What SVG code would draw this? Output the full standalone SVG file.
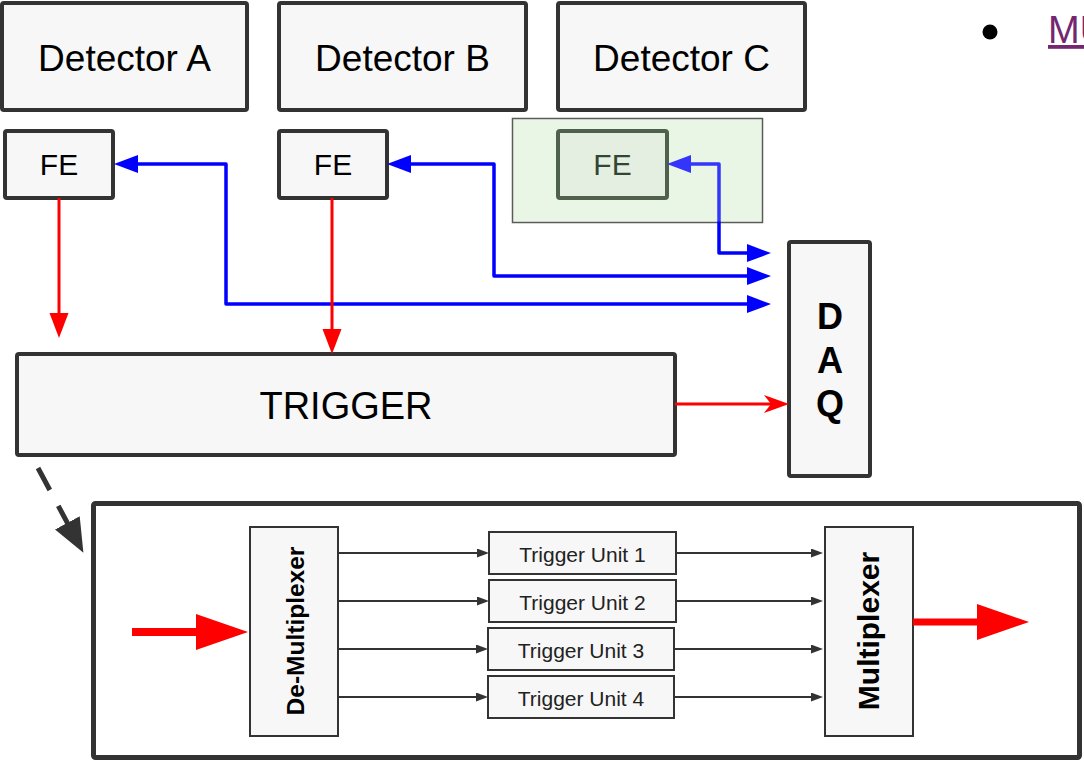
<svg xmlns="http://www.w3.org/2000/svg" width="1084" height="763" viewBox="0 0 1084 763">
<style>
.box{fill:#f7f7f7;stroke:#333333;stroke-width:4}
.sbox{fill:#f7f7f7;stroke:#333333;stroke-width:2}
.t{font-family:"Liberation Sans",Arial,sans-serif;fill:#000;text-anchor:middle}
.blue{fill:none;stroke:#0000ff;stroke-width:3.5;stroke-linejoin:round}
.red{fill:none;stroke:#ff0000;stroke-width:3}
.thin{fill:none;stroke:#333333;stroke-width:2}
</style>
<defs>
<marker id="hb" markerUnits="userSpaceOnUse" markerWidth="26" markerHeight="20" refX="2" refY="9" orient="auto-start-reverse"><path d="M0,0 L24,9 L0,18 z" fill="#0000ff"/></marker>
<marker id="hr" markerUnits="userSpaceOnUse" markerWidth="27" markerHeight="21" refX="2" refY="9.5" orient="auto"><path d="M0,0 L25,9.5 L0,19 z" fill="#ff0000"/></marker>
<marker id="hrn" markerUnits="userSpaceOnUse" markerWidth="27" markerHeight="20" refX="7" refY="9" orient="auto"><path d="M0,0 L25,9 L0,18 L7,9 z" fill="#ff0000"/></marker>
<marker id="hbig" markerUnits="userSpaceOnUse" markerWidth="54" markerHeight="38" refX="2" refY="18" orient="auto"><path d="M0,0 L52,18 L0,36 z" fill="#ff0000"/></marker>
<marker id="hd" markerUnits="userSpaceOnUse" markerWidth="36" markerHeight="30" refX="2" refY="14" orient="auto"><path d="M0,0 L34,14 L0,28 z" fill="#333333"/></marker>
<marker id="hs" markerUnits="userSpaceOnUse" markerWidth="14" markerHeight="11" refX="2" refY="4.5" orient="auto"><path d="M0,0 L12,4.5 L0,9 z" fill="#333333"/></marker>
</defs>
<rect x="0" y="0" width="1084" height="763" fill="#ffffff"/>

<g id="detector-a"><rect class="box" x="2" y="3" width="245" height="107" rx="2"/><text class="t" x="124.5" y="71" font-size="37">Detector A</text></g>
<g id="detector-b"><rect class="box" x="279" y="3" width="247" height="107" rx="2"/><text class="t" x="402.5" y="71" font-size="37">Detector B</text></g>
<g id="detector-c"><rect class="box" x="558" y="3" width="247" height="107" rx="2"/><text class="t" x="681.5" y="71" font-size="37">Detector C</text></g>

<g id="fe-c-region"><rect x="512.5" y="118.5" width="250" height="104" fill="#e9f6e6" stroke="#5a5a5a" stroke-width="1.5"/></g>

<g id="fe-a"><rect class="box" x="5" y="131" width="108" height="67" rx="2"/><text class="t" x="59" y="175" font-size="30">FE</text></g>
<g id="fe-b"><rect class="box" x="279" y="131" width="108" height="67" rx="2"/><text class="t" x="333" y="175" font-size="30">FE</text></g>
<g id="fe-c"><rect x="558" y="131" width="109" height="67" rx="2" fill="#e3eee0" stroke="#253620" stroke-width="4"/><text class="t" x="612.5" y="175" font-size="30" style="fill:#001400">FE</text></g>

<g id="trigger"><rect class="box" x="17" y="354" width="658" height="101" rx="2"/><text class="t" x="346" y="419" font-size="38">TRIGGER</text></g>

<g id="daq"><rect class="box" x="789" y="242" width="81" height="234" rx="2"/>
<text class="t" x="830" y="329" font-size="36" font-weight="bold">D</text>
<text class="t" x="830" y="373" font-size="36" font-weight="bold">A</text>
<text class="t" x="830" y="416" font-size="36" font-weight="bold">Q</text></g>

<g id="trigger-detail"><rect x="93.5" y="503.5" width="986" height="254" fill="#ffffff" stroke="#333333" stroke-width="5" rx="2"/></g>

<g id="demux"><rect class="sbox" x="250" y="527" width="88" height="209"/><text class="t" transform="translate(304,631) rotate(-90)" x="0" y="0" font-size="24.5" font-weight="bold">De-Multiplexer</text></g>
<g id="mux"><rect class="sbox" x="825" y="527" width="88" height="209"/><text class="t" transform="translate(879,631) rotate(-90)" x="0" y="0" font-size="30" font-weight="bold">Multiplexer</text></g>

<g id="tu1"><rect class="sbox" x="489" y="532" width="187" height="42"/><text class="t" x="582.5" y="561.5" font-size="21" style="fill:#222">Trigger Unit 1</text></g>
<g id="tu2"><rect class="sbox" x="489" y="580" width="187" height="42"/><text class="t" x="582.5" y="609.5" font-size="21" style="fill:#222">Trigger Unit 2</text></g>
<g id="tu3"><rect class="sbox" x="488" y="628" width="186" height="42"/><text class="t" x="581" y="657.5" font-size="21" style="fill:#222">Trigger Unit 3</text></g>
<g id="tu4"><rect class="sbox" x="488" y="676" width="186" height="42"/><text class="t" x="581" y="705.5" font-size="21" style="fill:#222">Trigger Unit 4</text></g>

<g id="connectors">
<path class="blue" d="M136,164 H226 V304 H749" marker-start="url(#hb)" marker-end="url(#hb)"/>
<path class="blue" d="M409,164 H494 V276 H749" marker-start="url(#hb)" marker-end="url(#hb)"/>
<path class="blue" d="M689,164 H719 V253 H749" marker-start="url(#hb)" marker-end="url(#hb)"/>
<path class="red" d="M59,198 V315" marker-end="url(#hr)"/>
<path class="red" d="M332,198 V331" marker-end="url(#hr)"/>
<path class="red" d="M675,404 H771" marker-end="url(#hrn)"/>
<path d="M38,468 L68.3,524.6" fill="none" stroke="#333333" stroke-width="5" stroke-dasharray="25 18" marker-end="url(#hd)"/>
<path d="M132,632 H198" fill="none" stroke="#ff0000" stroke-width="8" marker-end="url(#hbig)"/>
<path d="M913,622 H979" fill="none" stroke="#ff0000" stroke-width="7" marker-end="url(#hbig)"/>
<path class="thin" d="M338,553 H479" marker-end="url(#hs)"/>
<path class="thin" d="M338,601 H479" marker-end="url(#hs)"/>
<path class="thin" d="M338,649 H478" marker-end="url(#hs)"/>
<path class="thin" d="M338,697 H478" marker-end="url(#hs)"/>
<path class="thin" d="M676,553 H813" marker-end="url(#hs)"/>
<path class="thin" d="M676,601 H813" marker-end="url(#hs)"/>
<path class="thin" d="M674,649 H813" marker-end="url(#hs)"/>
<path class="thin" d="M674,697 H813" marker-end="url(#hs)"/>
</g>

<rect id="fe-c-region-tint" x="513.5" y="119.5" width="248" height="102" fill="#e9f6e6" opacity="0.22"/>

<g id="bullet-item"><circle cx="990" cy="32" r="7.5" fill="#000"/><text x="1048" y="43" font-family="Liberation Sans, Arial, sans-serif" font-size="38" fill="#74276f" text-decoration="underline">MU</text></g>
</svg>
